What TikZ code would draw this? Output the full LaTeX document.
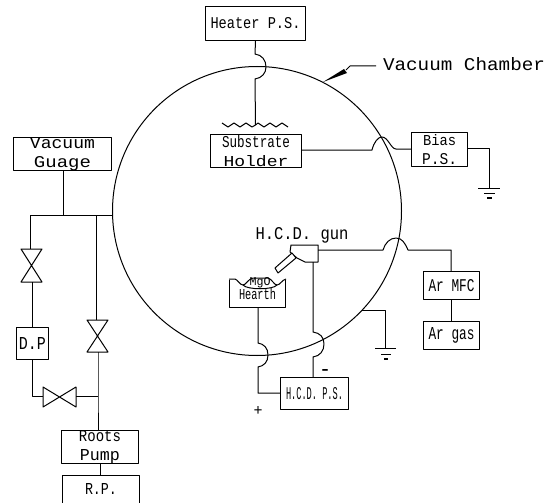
\documentclass[tikz,border=0pt]{standalone}
\usepackage{fontspec}
\setmainfont{Liberation Mono}
\newcommand\lbl[3][11]{\resizebox{#2pt}{#1pt}{#3}}
\tikzset{
  x=1pt,y=-1pt,
  ln/.style={line width=1pt,black,line join=round},
  boxn/.style={draw,ln,inner sep=0pt,align=center,anchor=north west,font=\fontsize{15}{19}\selectfont},
  txt/.style={inner sep=0pt,align=center,font=\fontsize{15}{19}\selectfont}
}
\newcommand\bx[6]{\node[boxn,minimum width=#4pt,minimum height=#5pt] (#1) at (#2,#3) {#6};}
\begin{document}
\begin{tikzpicture}
\useasboundingbox (0,0) rectangle (557,503);
% chamber
\coordinate (cc) at (257,211);
\draw[ln] (cc) circle[radius=144.5];
% boxes
\bx{heater}{205}{6}{100}{34}{\lbl{90}{Heater P.S.}}
\bx{holder}{210}{134}{91}{33}{\raisebox{-3pt}{\lbl[12]{68}{Substrate}}\\\raisebox{-3pt}{\lbl{65}{Holder}}}
\bx{bias}{411}{132}{56}{34}{\raisebox{-3pt}{\lbl{33}{Bias}}\\\raisebox{-3pt}{\lbl{35}{P.S.}}}
\bx{mfc}{423}{271}{56}{28}{\lbl[12]{46}{Ar MFC}}
\bx{gas}{423}{321}{56}{28}{\lbl[12]{46}{Ar gas}}
\bx{ps}{280}{377}{68}{32}{\lbl[12]{57}{H.C.D. P.S.}}
\bx{hearth}{229}{279}{56}{28}{\raisebox{-12pt}{\lbl[11]{37}{Hearth}}}
\bx{vg}{13}{137}{98}{32}{\raisebox{-3pt}{\lbl{65}{Vacuum}}\\\raisebox{-3pt}{\lbl{57}{Guage}}}
\bx{dp}{16}{327}{32}{32}{\lbl[12]{27}{D.P}}
\bx{roots}{61}{430}{77}{33}{\raisebox{-4pt}{\lbl{42}{Roots}}\\\raisebox{-4pt}{\lbl{40}{Pump}}}
\bx{rp}{62}{475}{77}{27.5}{\lbl{32}{R.P.}}
% labels
\node[txt] (vc) at (464,64) {\lbl[13]{162}{Vacuum Chamber}};
\node[txt] (gunl) at (302,235) {\lbl[12]{93}{H.C.D. gun}};
\node[txt] (plus) at (258,411) {\lbl[9]{9}{+}};
\node[txt] (minus) at (325,373) {\lbl[7]{12}{-}};
% leader
\coordinate (tip) at (323,82);
\coordinate (lbend) at (350,66);
\fill[black] (tip) -- (344,69) -- (347,73) -- cycle;
\draw[ln] (346,70) -- (lbend) -- (376,66);
% heater line
\coordinate (coil) at (255.5,125);
\draw[ln] (heater.south -| coil) -- (255,54) .. controls (262,55) and (266,60) .. (266,67) .. controls (266,73) and (262,78) .. (255,79) -- (coil);
\draw[ln] (222,123) -- (228,127) -- (234,123) -- (240,127) -- (246,123) -- (252,127) -- (coil) -- (258,123) -- (264,127) -- (270,123) -- (276,127) -- (282,123) -- (288,127);
% substrate to bias
\coordinate (bias1) at (489,148);
\draw[ln] (holder.east |- 0,150) -- (372,150) .. controls (374,142) and (378,137) .. (382,137) .. controls (388,137) and (391,149) .. (396,149) -- (bias.west |- 0,149);
\draw[ln] (bias.east |- bias1) -- (bias1) -- (489,188);
\draw[ln] (478,188) -- (500,188) (484,193) -- (495,193);
\draw[line width=1.5pt,black] (487,198) -- (492,198);
% gun
\draw[ln,fill=white] (291,245) -- (318,245) -- (318,262) -- (305,262) -- (297,258) -- (290,252) -- cycle;
\draw[ln,fill=white] (292,253) -- (275,268) -- (278,273) -- (296,258) -- cycle;
\draw[ln] (318,250) -- (383,250) .. controls (385,243) and (390,238) .. (396,238) .. controls (402,238) and (405,243) .. (408,250) -- (451,250) -- (mfc.north -| 451,0);
\draw[ln] (mfc.south -| 451,0) -- (gas.north -| 451,0);
\draw[ln] (313,262) -- (313,332) .. controls (320,333) and (324,337) .. (324,344) .. controls (324,351) and (320,356) .. (313,357) -- (ps.north -| 313,0);
% hearth
\draw[line width=1.6pt,white] (hearth.north west) -- (hearth.north east);
\draw[ln] (hearth.north west) -- (235,279) .. controls (238,280) and (240,285) .. (243,285) .. controls (246,285) and (248,279) .. (253,278) -- (268,278) .. controls (272,279) and (274,285) .. (277,285) .. controls (280,285) and (282,280) .. (hearth.north east);
\draw[ln] (243,285) .. controls (247,290) and (273,290) .. (277,285);
\node[txt] (mgo) at (260,283) {\lbl[8]{21}{MgO}};
\draw[ln] (hearth.south -| 258,0) -- (258,343) .. controls (264,344) and (268,348) .. (268,355) .. controls (268,362) and (264,366) .. (258,367) -- (258,393) -- (ps.west |- 0,393);
% chamber ground
\coordinate (cg) at (361.5,310);
\draw[ln] (cg) -- (385,310) -- (385,348);
\draw[ln] (375,348) -- (396,348) (381,354) -- (391,354);
\draw[line width=1.5pt,black] (384,359) -- (388,359);
% pumping lines
\coordinate (j1) at (63,215);
\coordinate (j2) at (96,215);
\coordinate (jl) at (30,215);
\coordinate (j3) at (98,396);
\draw[ln] (vg.south -| j1) -- (j1);
\draw[ln] (112.5,215) -- (jl) -- (30,249);
\draw[ln] (21,249) -- (42,249) -- (21,282) -- (42,282) -- cycle;
\draw[ln] (32,282) -- (dp.north -| 32,0);
\draw[ln] (j2) -- (96,320);
\draw[ln] (87,320) -- (108,320) -- (87,352) -- (108,352) -- cycle;
\draw[ln] (98,352) -- (j3) -- (roots.north -| 98,0);
\draw[ln] (dp.south -| 32,0) -- (32,396) -- (43,396);
\draw[ln] (43,387) -- (76,407) -- (76,387) -- (43,407) -- cycle;
\draw[ln] (76,396) -- (j3);
\draw[ln] (roots.south -| 100,0) -- (rp.north -| 100,0);
\end{tikzpicture}
\end{document}
